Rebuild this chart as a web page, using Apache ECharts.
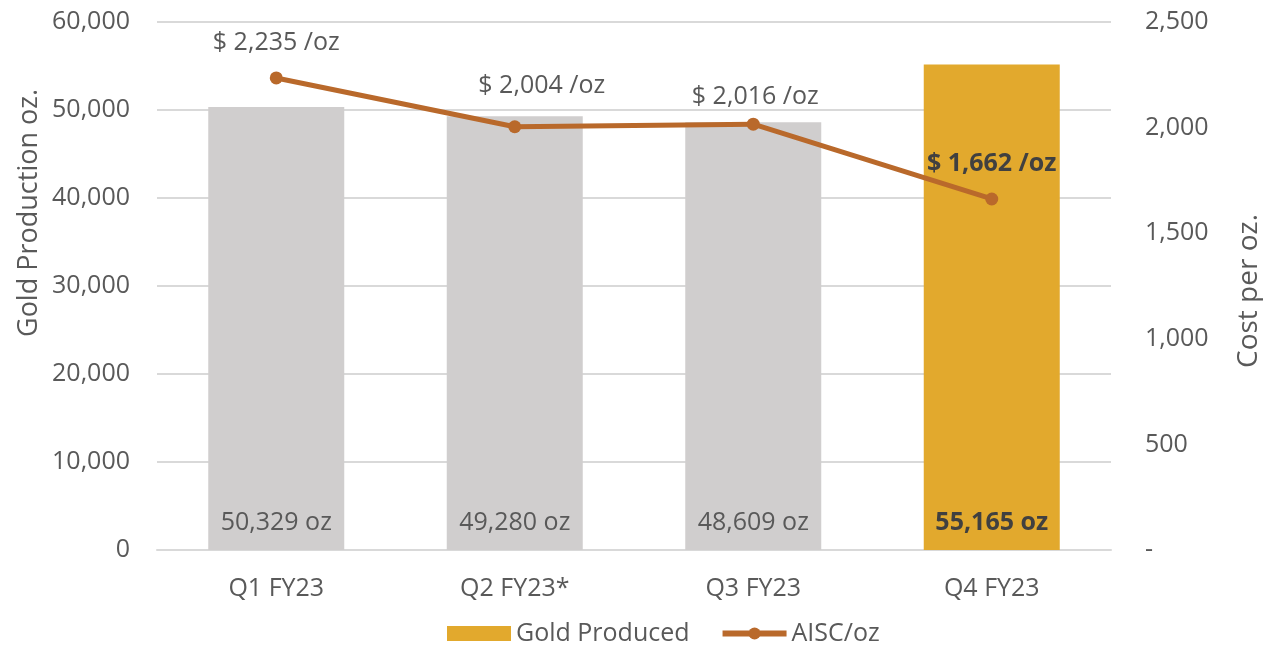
<!DOCTYPE html>
<html>
<head>
<meta charset="utf-8">
<script src="https://cdn.jsdelivr.net/npm/echarts@6/dist/echarts.min.js"></script>
<style>
html,body{margin:0;padding:0;background:#fff;}
#c{width:1263px;height:648px;}
</style>
</head>
<body>
<div id="c"></div>
<script>
const categories = ['Q1 FY23', 'Q2 FY23*', 'Q3 FY23', 'Q4 FY23'];
const goldProduced = [50329, 49280, 48609, 55165];
const aiscPerOz = [2235, 2004, 2016, 1662];
const leftTicks = [0, 10000, 20000, 30000, 40000, 50000, 60000];
const rightTicks = [0, 500, 1000, 1500, 2000, 2500];

const FONT = '"Open Sans", "Noto Sans", sans-serif';
const FS = 25;
const TXT = '#595959';
const GRAY = '#D0CECE';
const GOLD = '#E2A92D';
const LINE = '#B9692B';

// label placement styles (separate from data)
const lineLabelStyle = [
  {distance: 16, offset: [0, 0], bold: false},
  {distance: 22, offset: [27, 0], bold: false},
  {distance: 8, offset: [2, 0], bold: false},
  {distance: 16, offset: [0, 0], bold: true}
];
const highlightIdx = 3;

const fmt = v => v.toLocaleString('en-US');

const chart = echarts.init(document.getElementById('c'));
chart.setOption({
  animation: false,
  textStyle: {fontFamily: FONT},
  grid: {left: 157, right: 152, top: 22, bottom: 98},
  legend: {
    bottom: -3,
    left: 442,
    itemGap: 30,
    itemWidth: 64,
    itemHeight: 15,
    textStyle: {fontFamily: FONT, fontSize: FS, color: TXT},
    data: [
      {name: 'Gold Produced', icon: 'rect', itemStyle: {color: GOLD}},
      {name: 'AISC/oz', lineStyle: {width: 6, color: LINE}, itemStyle: {color: LINE}}
    ]
  },
  xAxis: {
    type: 'category',
    data: categories,
    axisTick: {show: false},
    axisLine: {lineStyle: {color: '#D9D9D9', width: 2}},
    axisLabel: {fontSize: FS, color: TXT, margin: 26, fontFamily: FONT}
  },
  yAxis: [
    {
      type: 'value',
      min: leftTicks[0],
      max: leftTicks[leftTicks.length - 1],
      interval: leftTicks[1] - leftTicks[0],
      axisLine: {show: false},
      axisTick: {show: false},
      splitLine: {lineStyle: {color: '#D9D9D9', width: 2}},
      axisLabel: {fontSize: FS, color: TXT, margin: 27, fontFamily: FONT, formatter: v => fmt(v)}
    },
    {
      type: 'value',
      min: rightTicks[0],
      max: rightTicks[rightTicks.length - 1],
      interval: rightTicks[1] - rightTicks[0],
      axisLine: {show: false},
      axisTick: {show: false},
      splitLine: {show: false},
      axisLabel: {fontSize: FS, color: TXT, margin: 34, fontFamily: FONT, formatter: v => v === 0 ? '-' : fmt(v)}
    }
  ],
  graphic: [
    {type: 'text', rotation: Math.PI / 2, x: 29, y: 213,
     style: {text: 'Gold Production oz.', fill: TXT, font: '27px ' + FONT, textAlign: 'center', textVerticalAlign: 'middle'}},
    {type: 'text', rotation: Math.PI / 2, x: 1249, y: 291,
     style: {text: 'Cost per oz.', fill: TXT, font: '28px ' + FONT, textAlign: 'center', textVerticalAlign: 'middle'}}
  ],
  series: [
    {
      name: 'Gold Produced',
      type: 'bar',
      barWidth: 136,
      itemStyle: {color: GOLD},
      data: goldProduced.map((v, i) => ({
        value: v,
        itemStyle: {color: i === highlightIdx ? GOLD : GRAY},
        label: {
          show: true,
          position: 'insideBottom',
          distance: 15,
          fontSize: FS,
          fontFamily: FONT,
          fontWeight: i === highlightIdx ? 'bold' : 'normal',
          color: i === highlightIdx ? '#404040' : TXT,
          formatter: p => fmt(p.value) + ' oz'
        }
      }))
    },
    {
      name: 'AISC/oz',
      type: 'line',
      yAxisIndex: 1,
      symbol: 'circle',
      symbolSize: 13,
      lineStyle: {color: LINE, width: 5},
      itemStyle: {color: LINE},
      data: aiscPerOz.map((v, i) => ({
        value: v,
        label: {
          show: true,
          position: 'top',
          distance: lineLabelStyle[i].distance,
          offset: lineLabelStyle[i].offset,
          fontSize: FS,
          fontFamily: FONT,
          fontWeight: lineLabelStyle[i].bold ? 'bold' : 'normal',
          color: lineLabelStyle[i].bold ? '#404040' : TXT,
          formatter: p => '$ ' + fmt(p.value) + ' /oz'
        }
      }))
    }
  ]
});
</script>
</body>
</html>
